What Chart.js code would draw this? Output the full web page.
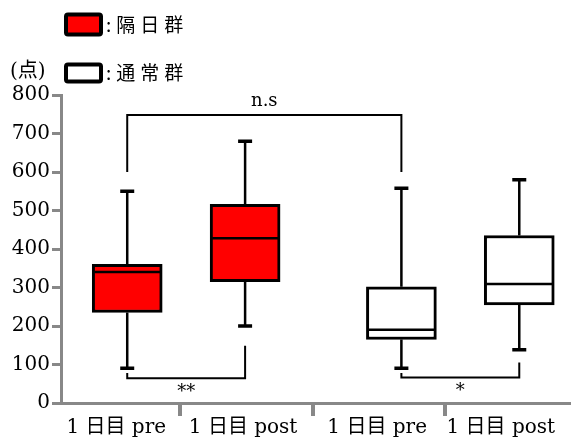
<!DOCTYPE html>
<html>
<head>
<meta charset="utf-8">
<script src="https://cdn.jsdelivr.net/npm/chart.js@4/dist/chart.umd.min.js"></script>
<style>
  html, body { margin: 0; padding: 0; background: #fff; }
  #wrap { width: 571px; height: 444px; }
</style>
</head>
<body>
<div id="wrap"><canvas id="c" width="571" height="444"></canvas></div>
<script>
// ---- data ----
const categories = ['1 日目 pre', '1 日目 post', '1 日目 pre', '1 日目 post'];
const groups = ['隔日群', '通常群'];
const whiskerLow  = [90, 200, 90, 138];
const q1          = [235, 315, 165, 255];
const median      = [340, 428, 190, 309];
const q3          = [360, 516, 302, 435];
const whiskerHigh = [550, 680, 558, 580];
const yTicks = [0, 100, 200, 300, 400, 500, 600, 700, 800];
const unitLabel = '(点)';
const comparisons = [
  { from: 0, to: 2, label: 'n.s' },
  { from: 0, to: 1, label: '**' },
  { from: 2, to: 3, label: '*' }
];

// ---- layout ----
const xRange = { min: 0.1, max: 3.943 };
const boxX = [0.6, 1.49, 2.67, 3.56];          // box centres on the x scale
const labelX = [0.517, 1.475, 2.487, 3.42];    // category label anchors
const dividers = [1, 2, 3];                    // tick marks between categories
const groupOf = [0, 0, 1, 1];
const groupColors = ['#ff0000', '#ffffff'];
const boxWidth = 70;
// bracket geometry in value units: [bar level, left leg end, right leg end]
const bracketLevels = [[748, 600, 600], [64, 78, 149], [66, 78, 105]];
const bracketText = [{ dy: -14 }, { dy: 14 }, { dy: 14 }];

const serif = "'DejaVu Serif', 'Noto Sans CJK JP', serif";
const cjk = "'Noto Sans CJK JP', sans-serif";

const datasets = groups.map((g, gi) => ({
  label: g,
  data: categories.map((c, i) => groupOf[i] === gi ? { x: boxX[i], y: [q1[i], q3[i]] } : null).filter(Boolean),
  backgroundColor: groupColors[gi],
  borderColor: '#000',
  borderWidth: 3,
  borderSkipped: false,
  barThickness: boxWidth,
  grouped: false
}));

const whiskerPlugin = {
  id: 'whiskers',
  beforeDatasetsDraw(chart) {
    const { ctx, scales: { x, y } } = chart;
    ctx.save();
    ctx.strokeStyle = '#000';
    categories.forEach((c, i) => {
      const px = x.getPixelForValue(boxX[i]);
      ctx.lineWidth = 2.5;
      ctx.beginPath();
      ctx.moveTo(px, y.getPixelForValue(q3[i]));
      ctx.lineTo(px, y.getPixelForValue(whiskerHigh[i]));
      ctx.moveTo(px, y.getPixelForValue(q1[i]));
      ctx.lineTo(px, y.getPixelForValue(whiskerLow[i]));
      ctx.stroke();
      ctx.lineWidth = 3.5;
      ctx.beginPath();
      [whiskerHigh[i], whiskerLow[i]].forEach(v => {
        const py = y.getPixelForValue(v);
        ctx.moveTo(px - 7, py);
        ctx.lineTo(px + 7, py);
      });
      ctx.stroke();
    });
    ctx.restore();
  },
  afterDatasetsDraw(chart) {
    const { ctx, scales: { x, y } } = chart;
    ctx.save();
    ctx.strokeStyle = '#000';
    ctx.lineWidth = 2.5;
    categories.forEach((c, i) => {
      const px = x.getPixelForValue(boxX[i]);
      const py = y.getPixelForValue(median[i]);
      ctx.beginPath();
      ctx.moveTo(px - boxWidth / 2 + 2, py);
      ctx.lineTo(px + boxWidth / 2 - 2, py);
      ctx.stroke();
    });
    // significance brackets
    ctx.lineWidth = 2;
    ctx.fillStyle = '#000';
    comparisons.forEach((cmp, k) => {
      const [lvl, l1, l2] = bracketLevels[k];
      const xa = x.getPixelForValue(boxX[cmp.from]);
      const xb = x.getPixelForValue(boxX[cmp.to]);
      const yl = y.getPixelForValue(lvl);
      ctx.beginPath();
      ctx.moveTo(xa, y.getPixelForValue(l1));
      ctx.lineTo(xa, yl);
      ctx.lineTo(xb, yl);
      ctx.lineTo(xb, y.getPixelForValue(l2));
      ctx.stroke();
      ctx.font = '18px ' + serif;
      ctx.textAlign = 'center';
      ctx.textBaseline = 'middle';
      ctx.fillText(cmp.label, (xa + xb) / 2, yl + bracketText[k].dy);
    });
    ctx.restore();
  }
};

const legendPlugin = {
  id: 'groupLegend',
  afterDraw(chart) {
    const ctx = chart.ctx;
    const boxes = [{ x: 66, y: 14.5, w: 35, h: 20 }, { x: 66, y: 64.5, w: 35, h: 17 }];
    const textY = [25, 73];
    ctx.save();
    chart.data.datasets.forEach((ds, i) => {
      const b = boxes[i];
      ctx.beginPath();
      ctx.roundRect(b.x, b.y, b.w, b.h, 2);
      ctx.fillStyle = ds.backgroundColor;
      ctx.fill();
      ctx.lineWidth = 4;
      ctx.strokeStyle = '#000';
      ctx.stroke();
      ctx.fillStyle = '#000';
      ctx.textAlign = 'left';
      ctx.textBaseline = 'middle';
      ctx.font = '19px ' + cjk;
      ctx.letterSpacing = '5px';
      ctx.fillText(':' + ds.label, 106, textY[i]);
      ctx.letterSpacing = '0px';
    });
    ctx.font = '20px ' + serif;
    ctx.textBaseline = 'middle';
    ctx.fillText(unitLabel, 10, 72);
    ctx.restore();
  }
};

new Chart(document.getElementById('c'), {
  type: 'bar',
  data: { datasets },
  options: {
    responsive: false,
    animation: false,
    events: [],
    layout: { padding: { top: 95, right: 1, left: 0, bottom: 0 } },
    plugins: { legend: { display: false }, tooltip: { enabled: false } },
    scales: {
      x: {
        type: 'linear',
        min: xRange.min,
        max: xRange.max,
        offset: false,
        afterBuildTicks(scale) {
          scale.ticks = [...labelX, ...dividers].sort((a, b) => a - b).map(v => ({ value: v }));
        },
        afterFit(scale) { scale.height = 41; },
        ticks: {
          autoSkip: false,
          maxRotation: 0,
          padding: 0,
          color: '#000',
          font: { family: serif, size: 20 },
          callback(value) {
            const i = labelX.findIndex(v => Math.abs(v - value) < 1e-6);
            return i >= 0 ? categories[i] : '';
          }
        },
        grid: {
          offset: false,
          drawOnChartArea: false,
          tickLength: 13,
          lineWidth: 4,
          color: ctx => (ctx.tick && dividers.includes(ctx.tick.value)) ? '#888' : 'rgba(0,0,0,0)'
        },
        border: { color: '#888', width: 3 }
      },
      y: {
        min: 0,
        max: 800,
        afterBuildTicks(scale) { scale.ticks = yTicks.map(v => ({ value: v })); },
        afterFit(scale) { scale.width = 61; },
        ticks: {
          padding: 2,
          color: '#000',
          font: { family: serif, size: 20 }
        },
        grid: { drawOnChartArea: false, tickLength: 9, lineWidth: 3, color: '#888' },
        border: { color: '#888', width: 3 }
      }
    }
  },
  plugins: [whiskerPlugin, legendPlugin]
});
</script>
</body>
</html>
